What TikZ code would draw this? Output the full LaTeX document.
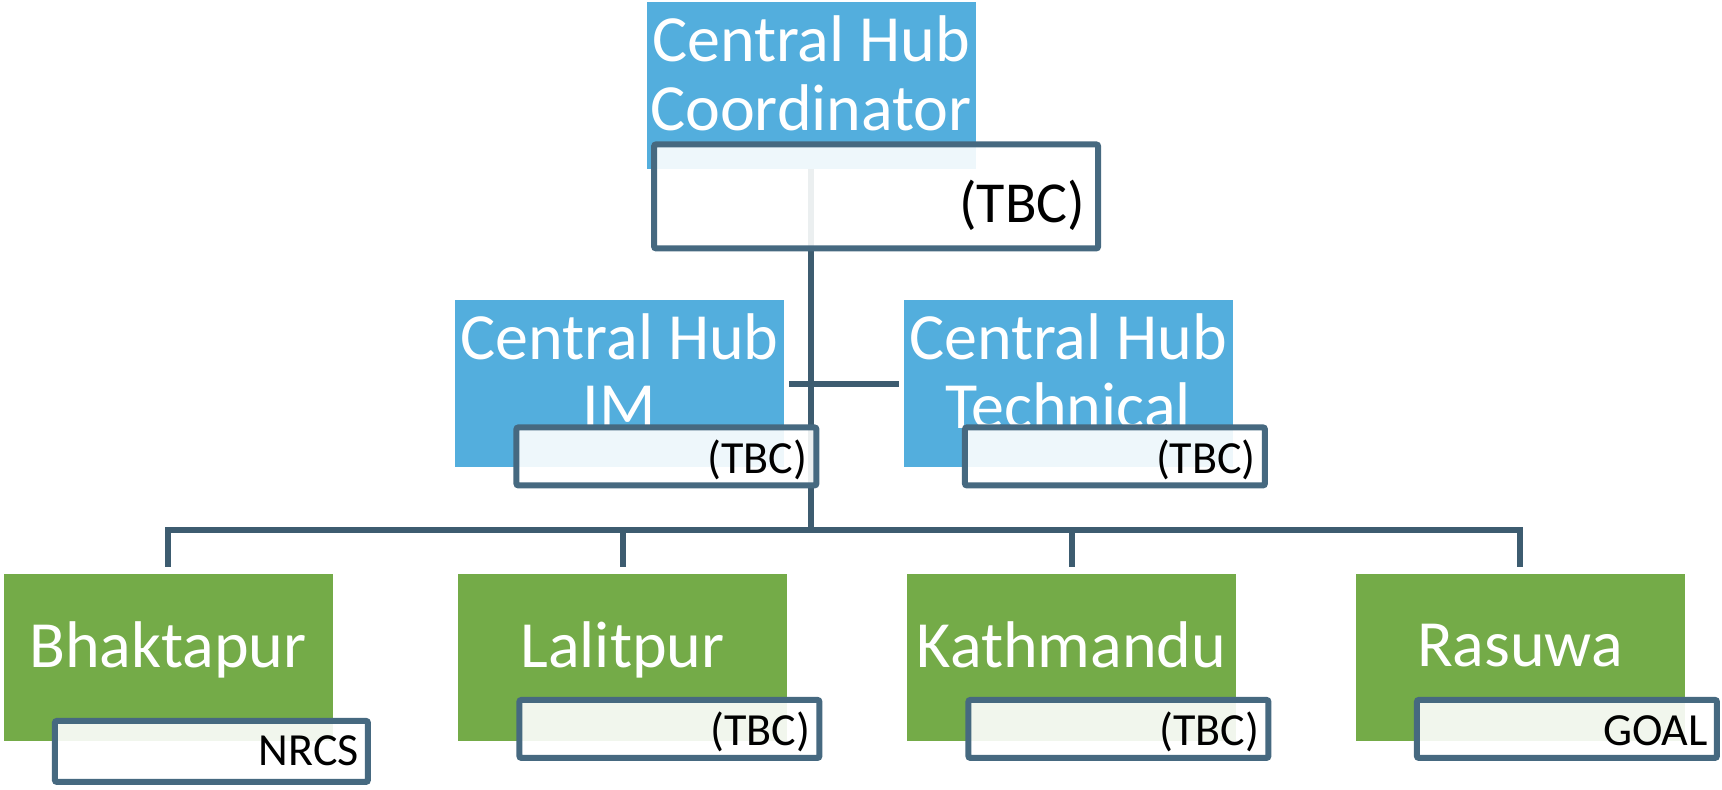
\documentclass[tikz,border=0pt]{standalone}
\usepackage{fontspec}
\setmainfont{Carlito}
\usepackage{tikz}
\usetikzlibrary{calc,positioning,backgrounds}

\definecolor{hubblue}{RGB}{83,174,221}
\definecolor{distgreen}{RGB}{116,171,72}
\definecolor{edgecol}{RGB}{70,105,128}
\definecolor{linkcol}{RGB}{61,92,112}

\begin{document}
\begin{tikzpicture}[x=0.5pt,y=-0.5pt,
    unit/.style={minimum width=164.5pt,minimum height=83.5pt,inner sep=0pt,text=white,align=center,text depth=12pt,font=\fontsize{33}{34.5}\selectfont},
    hub/.style={unit,fill=hubblue},
    dist/.style={unit,fill=distgreen},
    tag/.style={draw=edgecol,line width=3pt,fill=white,fill opacity=0.9,text opacity=1,rounded corners=1pt,inner xsep=4.5pt,inner ysep=0pt,align=right,text width=141pt,text height=23pt,text depth=6pt,font=\fontsize{23}{27}\selectfont},
    link/.style={draw=linkcol,line width=3pt}]
\useasboundingbox (0,0) rectangle (1722,789);

% coordinator
\node[hub] (coord) at (811,85.5) {Central Hub\\Coordinator};
\node[tag,anchor=north west,text width=209pt,inner xsep=6.5pt,text height=39pt,text depth=13pt,font=\fontsize{29}{33}\selectfont]
    (coordtag) at ([xshift=2.5pt,yshift=14pt]coord.south west) {(TBC)};

% second row
\node[hub] (im) at (619.5,383.5) {Central Hub\\IM};
\node[hub] (tech) at (1068,383.5) {Central Hub\\Technical};
\node[tag,anchor=south east] (imtag) at ([xshift=17.5pt,yshift=-10.5pt]im.south east) {(TBC)};
\node[tag,anchor=south east] (techtag) at ([xshift=17.5pt,yshift=-10.5pt]tech.south east) {(TBC)};

\coordinate (bus) at (811,530);
\begin{scope}[on background layer]
    \draw[link] (coord.south) -- (bus);
    \draw[link] ([xshift=2.5pt]im.east) -- ([xshift=-2pt]tech.west);
\end{scope}

% districts
\node[dist] (bhak) at (168,657) {Bhaktapur};
\node[tag,anchor=south east,text width=147.5pt,text height=22.5pt,text depth=8pt]
    (bhaktag) at ([xshift=19pt,yshift=-22pt]bhak.south east) {NRCS};
\draw[link] (bus) -| ([yshift=3pt]bhak.north);
\foreach \name/\x/\txt/\org in {lalit/622.5/Lalitpur/(TBC),kath/1071.5/Kathmandu/(TBC),rasu/1520/Rasuwa/GOAL}
{
    \node[dist] (\name) at (\x,657) {\txt};
    \node[tag,anchor=south east] (\name tag) at ([xshift=17.5pt,yshift=-10pt]\name.south east) {\org};
    \draw[link] (bus) -| ([yshift=3pt]\name.north);
}
\end{tikzpicture}
\end{document}
